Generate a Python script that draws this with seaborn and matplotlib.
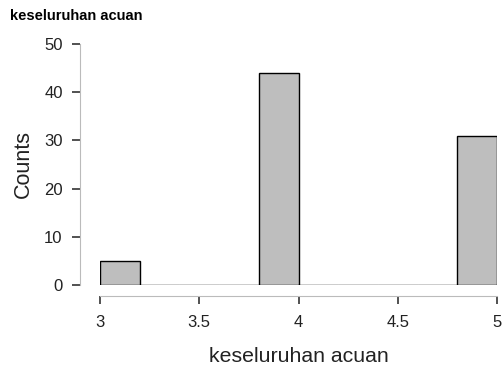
import numpy as np
import pandas as pd
import matplotlib
matplotlib.use("Agg")
import matplotlib.pyplot as plt
import seaborn as sns

# =====================================================
# DATA
# =====================================================

bin_edges = [3.0, 3.2, 3.4, 3.6, 3.8, 4.0, 4.2, 4.4, 4.6, 4.8, 5.0]
counts = [5, 0, 0, 0, 44, 0, 0, 0, 0, 31]
x_ticks = [3, 3.5, 4, 4.5, 5]
x_tick_labels = ["3", "3.5", "4", "4.5", "5"]
y_ticks = [0, 10, 20, 30, 40, 50]

variable = "keseluruhan acuan"

# =====================================================
# PLOT
# =====================================================

sns.set_style("white")
plt.rcParams["font.family"] = ["Liberation Sans", "DejaVu Sans"]

centers = [(a + b) / 2 for a, b in zip(bin_edges[:-1], bin_edges[1:])]
df = pd.DataFrame({"value": centers, "count": counts})

fig = plt.figure(figsize=(5.04, 3.67), dpi=100)
ax = fig.add_axes([100 / 504, 1 - 285 / 367, 397 / 504, 241 / 367])

sns.histplot(
    data=df,
    x="value",
    weights="count",
    bins=bin_edges,
    color="#bebebe",
    edgecolor="black",
    linewidth=1,
    alpha=1,
    ax=ax
)

ax.set_xlim(3, 5)
ax.set_ylim(0, 50)
ax.set_xticks(x_ticks)
ax.set_xticklabels(x_tick_labels)
ax.set_yticks(y_ticks)

for side in ["top", "right"]:
    ax.spines[side].set_visible(False)
ax.spines["left"].set_position(("outward", 14.4))
ax.spines["bottom"].set_position(("outward", 8))
ax.spines["left"].set_bounds(0, 50)
ax.spines["bottom"].set_bounds(3, 5)
for side in ["left", "bottom"]:
    ax.spines[side].set_color("#bbbbbb")
    ax.spines[side].set_linewidth(0.8)

ax.tick_params(axis="both", bottom=True, left=True, direction="out",
               length=5.5, width=1.2, color="#333333",
               labelsize=12, labelcolor="#222222")
ax.tick_params(axis="x", pad=8)
ax.tick_params(axis="y", pad=7)

ax.set_xlabel(variable, fontsize=15.3, color="#222222", labelpad=12.5)
ax.set_ylabel("Counts", fontsize=15.5, color="#222222", labelpad=7)

fig.text(10 / 504, 1 - 16 / 367, variable, fontsize=10.5, fontweight="bold",
         ha="left", va="center", color="black")

fig.savefig("out.png", dpi=100)
